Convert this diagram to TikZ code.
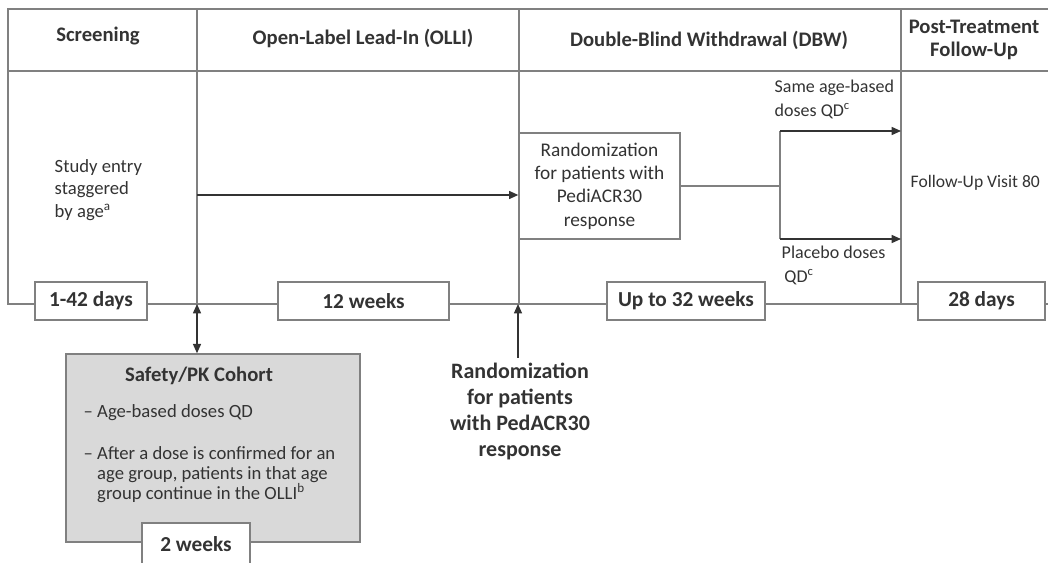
\documentclass[tikz,border=0pt]{standalone}
\usepackage{fontspec}
\setmainfont{Carlito}
\usetikzlibrary{arrows.meta,positioning}
\definecolor{linegray}{HTML}{808080}
\definecolor{txtgray}{HTML}{333333}
\definecolor{cohortgray}{HTML}{D9D9D9}
\begin{document}
\begin{tikzpicture}[x=0.75pt, y=-0.75pt,
    every node/.style={text=txtgray},
    frame/.style={draw=linegray, line width=1.3pt},
    conn/.style={draw=black!80, line width=1.1pt},
    tip/.style={-{Triangle[length=7pt, width=6pt]}},
    hdr/.style={font=\fontsize{15.5}{17}\selectfont\bfseries, align=center},
    txt/.style={font=\fontsize{14}{17}\selectfont, align=left},
    durbox/.style={draw=linegray, line width=1.1pt, fill=white, minimum height=28.5pt,
        inner sep=0pt, font=\fontsize{16}{18}\selectfont\bfseries}]
    \useasboundingbox (0,0) rectangle (1048,563);
    \clip (0,0) rectangle (1048,563);

    % Phase frame
    \draw[frame] (1048,9) -- (8,9) -- (8,304) -- (1048,304);
    \draw[frame] (8,71) -- (1048,71);
    \draw[frame] (197,9) -- (197,304);
    \draw[frame] (519,9) -- (519,304);
    \draw[frame] (901,9) -- (901,304);

    % Phase headers
    \node[hdr] (scrHdr) at (98,36) {Screening};
    \node[hdr] (olliHdr) at (363,38) {Open-Label Lead-In (OLLI)};
    \node[hdr] (dbwHdr) at (709,40) {Double-Blind Withdrawal (DBW)};
    \node[hdr] (fuHdr) at (974,40) {Post-Treatment\\Follow-Up};

    % Phase contents
    \node[txt, anchor=west] (entry) at (50,190) {Study entry\\staggered\\by age\textsuperscript{a}};
    \node[draw=linegray, line width=1pt, fill=white, minimum width=120.75pt, minimum height=79.5pt,
        txt, align=center, inner sep=1pt, font=\fontsize{14.5}{17.5}\selectfont] (rand) at (599.5,186)
        {Randomization\\for patients with\\PediACR30\\response};
    \node[txt, anchor=west, font=\fontsize{13.5}{18}\selectfont] (sameTxt) at (770,99) {Same age-based\\doses QD\textsuperscript{c}};
    \node[txt, anchor=west, font=\fontsize{13.5}{18}\selectfont] (placTxt) at (777,265) {Placebo doses\\\hspace{2pt}QD\textsuperscript{c}};
    \node[txt, anchor=west, font=\fontsize{13.2}{16}\selectfont] (fuVisit) at (906,183) {Follow-Up Visit 80};

    % OLLI to randomization
    \coordinate (olliStart) at (197,195);
    \draw[conn, tip] (olliStart) -- (olliStart -| rand.west);

    % Randomized arms
    \coordinate (split) at (780,186);
    \coordinate (sameEnd) at (901,131);
    \coordinate (placEnd) at (901,239);
    \draw[conn, line width=0.9pt, draw=linegray] (rand.east) -- (split);
    \draw[conn, line width=0.9pt, draw=linegray] (split) -- (split |- sameEnd);
    \draw[conn, line width=0.9pt, draw=linegray] (split) -- (split |- placEnd);
    \draw[conn, tip] (split |- sameEnd) -- (sameEnd);
    \draw[conn, tip] (split |- placEnd) -- (placEnd);

    % Durations on the time line
    \node[durbox, minimum width=84pt] (d1) at (91,301) {1-42 days};
    \node[durbox, minimum width=128.25pt] (d2) at (363.5,301) {12 weeks};
    \node[durbox, minimum width=118.5pt] (d3) at (686,301) {Up to 32 weeks};
    \node[durbox, minimum width=95.25pt] (d4) at (981.5,301) {28 days};

    % Safety/PK cohort
    \node[draw=linegray, line width=1.1pt, fill=cohortgray, minimum width=220.5pt,
        minimum height=141pt] (cohort) at (213,448) {};
    \node[hdr] (cohortHdr) at (199,376) {Safety/PK Cohort};
    \node[txt, anchor=west, font=\fontsize{14}{15}\selectfont] (dose1) at (79,413) {– Age-based doses QD};
    \node[txt, anchor=north west, font=\fontsize{14}{15}\selectfont] (dose2) at (79,442)
        {– After a dose is confirmed for an\\\phantom{– }age group, patients in that age\\\phantom{– }group continue in the OLLI\textsuperscript{b}};
    \node[durbox, minimum width=81pt, minimum height=31.5pt] (d5) at (196,544) {2 weeks};

    \coordinate (entryTick) at (197,304);
    \draw[conn, {Triangle[length=7pt, width=6pt]}-{Triangle[length=7pt, width=6pt]}] (entryTick) -- (entryTick |- cohort.north);

    % Randomization marker
    \node[hdr, font=\fontsize{16.5}{19.5}\selectfont\bfseries] (randTxt) at (520,411)
        {Randomization\\for patients\\with PedACR30\\response};
    \coordinate (randTick) at (518,304);
    \draw[conn, line width=0.9pt, tip] (randTxt.north -| randTick) -- (randTick);
\end{tikzpicture}
\end{document}
